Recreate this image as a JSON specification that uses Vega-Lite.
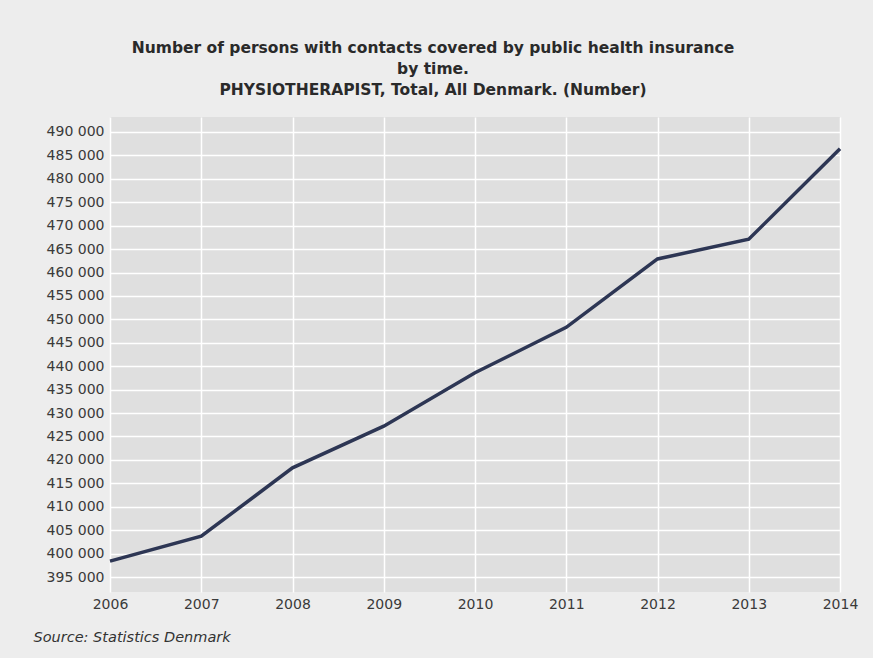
{
  "$schema": "https://vega.github.io/schema/vega-lite/v6.json",
  "width": 730,
  "height": 475,
  "autosize": {"type": "none"},
  "padding": {"left": 110, "top": 117, "right": 33, "bottom": 66},
  "background": "#ededed",
  "title": {
    "text": ["Number of persons with contacts covered by public health insurance", "by time.", "PHYSIOTHERAPIST, Total, All Denmark. (Number)"],
    "anchor": "middle",
    "dx": -42,
    "offset": 19,
    "font": "DejaVu Sans",
    "fontSize": 15.5,
    "fontWeight": "bold",
    "color": "#2a2a2a",
    "lineHeight": 21
  },
  "data": {
    "values": [
      {"year": 2006, "persons": 398400},
      {"year": 2007, "persons": 403700},
      {"year": 2008, "persons": 418300},
      {"year": 2009, "persons": 427200},
      {"year": 2010, "persons": 438600},
      {"year": 2011, "persons": 448300},
      {"year": 2012, "persons": 462900},
      {"year": 2013, "persons": 467100},
      {"year": 2014, "persons": 486400}
    ]
  },
  "mark": {"type": "line", "color": "#2d3654", "strokeWidth": 3.5},
  "encoding": {
    "x": {
      "field": "year",
      "type": "quantitative",
      "scale": {"domain": [2006, 2014], "nice": false, "zero": false},
      "axis": {
        "values": [2006, 2007, 2008, 2009, 2010, 2011, 2012, 2013, 2014],
        "format": "d",
        "labelFlush": false,
        "labelOverlap": false,
        "title": "Source: Statistics Denmark",
        "titleAnchor": "start",
        "titleAlign": "left",
        "titleBaseline": "middle",
        "titleX": -77,
        "titleY": 45,
        "titleFont": "DejaVu Sans",
        "titleFontSize": 14.5,
        "titleFontStyle": "italic",
        "titleFontWeight": "normal",
        "titleColor": "#333333",
        "labelPadding": 5,
        "labelFontSize": 14,
        "labelFont": "DejaVu Sans",
        "labelColor": "#3a3a3a",
        "ticks": false,
        "domain": false,
        "grid": true,
        "gridColor": "#ffffff",
        "gridWidth": 1.5
      }
    },
    "y": {
      "field": "persons",
      "type": "quantitative",
      "scale": {"domain": [391800, 493200], "nice": false, "zero": false},
      "axis": {
        "values": [395000, 400000, 405000, 410000, 415000, 420000, 425000, 430000, 435000, 440000, 445000, 450000, 455000, 460000, 465000, 470000, 475000, 480000, 485000, 490000],
        "labelExpr": "replace(format(datum.value, ','), ',', ' ')",
        "title": null,
        "labelPadding": 6,
        "labelFontSize": 14,
        "labelFont": "DejaVu Sans",
        "labelColor": "#3a3a3a",
        "labelOverlap": false,
        "ticks": false,
        "domain": false,
        "grid": true,
        "gridColor": "#ffffff",
        "gridWidth": 1.5
      }
    }
  },
  "config": {
    "view": {"fill": "#dfdfdf", "stroke": null}
  }
}
